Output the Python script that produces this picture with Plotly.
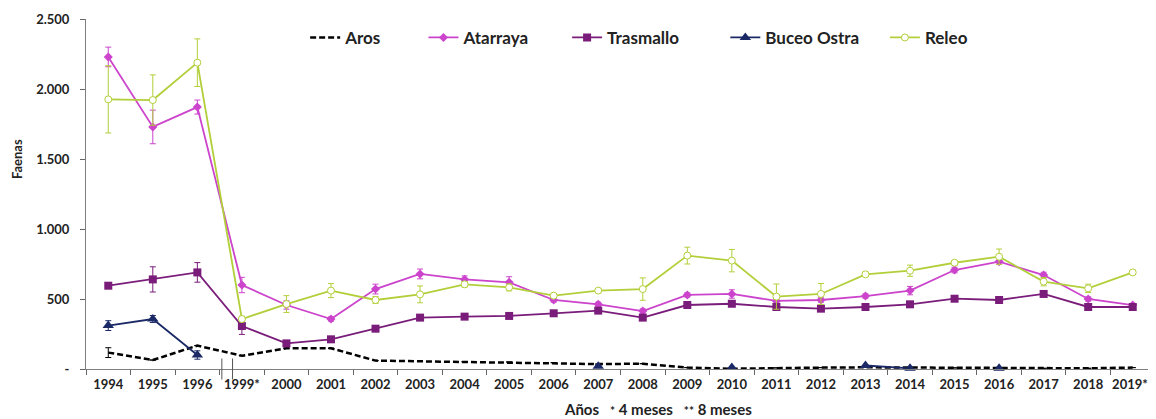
import plotly.graph_objects as go

NaN = float("nan")

years = ["1994", "1995", "1996", "1999*", "2000", "2001", "2002", "2003", "2004", "2005",
         "2006", "2007", "2008", "2009", "2010", "2011", "2012", "2013", "2014", "2015",
         "2016", "2017", "2018", "2019**"]

aros = [117, 64, 167, 95, 148, 148, 60, 55, 52, 50, 45, 35, 38, 10, 2, 8, 10, 12, 10, 8, 5, 5, 5, 10]
aros_err = [35] + [NaN] * 23

atarraya = [2229, 1729, 1871, 600, 457, 357, 571, 679, 640, 619, 493, 462, 414, 529, 536,
            486, 493, 521, 560, 707, 767, 671, 500, 457]
atarraya_err = [70, 120, 50, 55, 30, 15, 35, 35, 25, 40, 15, 15, 15, 15, 30,
                15, 15, 15, 30, 20, 20, 20, 15, 10]

trasmallo = [595, 640, 690, 307, 183, 212, 288, 367, 374, 379, 398, 417, 367, 457, 466,
             443, 431, 443, 462, 502, 493, 536, 443, 443]
trasmallo_err = [15, 90, 70, 60, 10, 10, 10, 10, 10, 10, 10, 10, 10, 10, 10,
                 10, 10, 10, 10, 10, 10, 10, 10, 10]

buceo = [310, 357, 100, None, None, None, None, None, None, None, None, 20, None, None, 10,
         None, None, 25, 5, None, 5, None, None, None]
buceo_err = [35, 25, 30] + [NaN] * 21

releo = [1926, 1921, 2188, 357, 464, 560, 493, 533, 605, 583, 524, 560, 571, 810, 774,
         517, 536, 676, 702, 759, 802, 624, 576, 690]
releo_err = [240, 180, 170, 20, 60, 50, 25, 60, 20, 25, 15, 15, 80, 60, 80,
             90, 75, 15, 40, 15, 55, 30, 30, 15]

c_aros = "#000000"
c_ata = "#CC44CC"
c_tra = "#7A1C7A"
c_buc = "#1B2A66"
c_rel = "#B2CF3A"

def pad(n):
    return "\u00a0" * n

fig = go.Figure()

def eb(arr, color):
    return dict(type="data", array=arr, visible=True, color=color, thickness=1, width=3)

fig.add_trace(go.Scatter(x=years, y=aros, name="Aros" + pad(9), mode="lines",
                         line=dict(color=c_aros, width=2.5, dash="6px,3px"),
                         error_y=eb(aros_err, c_aros), cliponaxis=False))
fig.add_trace(go.Scatter(x=years, y=atarraya, name="Atarraya" + pad(8), mode="lines+markers",
                         line=dict(color=c_ata, width=1.8),
                         marker=dict(symbol="diamond", size=7, color=c_ata),
                         error_y=eb(atarraya_err, c_ata), cliponaxis=False))
fig.add_trace(go.Scatter(x=years, y=trasmallo, name="Trasmallo" + pad(10), mode="lines+markers",
                         line=dict(color=c_tra, width=1.8),
                         marker=dict(symbol="square", size=8, color=c_tra),
                         error_y=eb(trasmallo_err, c_tra), cliponaxis=False))
fig.add_trace(go.Scatter(x=years, y=buceo, name="Buceo Ostra" + pad(5), mode="lines+markers",
                         line=dict(color=c_buc, width=1.8), connectgaps=False,
                         marker=dict(symbol="triangle-up", size=10, color=c_buc),
                         error_y=eb(buceo_err, c_buc), cliponaxis=False))
fig.add_trace(go.Scatter(x=years, y=releo, name="Releo", mode="lines+markers",
                         line=dict(color=c_rel, width=1.8),
                         marker=dict(symbol="circle", size=7, color="white",
                                     line=dict(color=c_rel, width=1)),
                         error_y=eb(releo_err, c_rel), cliponaxis=False))

font_family = "Lato, Open Sans, sans-serif"
txt = "#222222"

# page body adds an 8px offset; figure size and margins compensate for it
fig.update_layout(
    width=1148, height=411, autosize=False,
    margin=dict(l=78, r=1, t=11, b=50),
    paper_bgcolor="white", plot_bgcolor="white",
    font=dict(family=font_family, size=12, color=txt, weight="bold"),
    showlegend=True,
    legend=dict(orientation="h", x=0.205, y=0.946, xanchor="left", yanchor="middle",
                font=dict(size=17, color=txt, weight="bold"),
                bgcolor="rgba(0,0,0,0)", itemwidth=30, tracegroupgap=0),
    xaxis=dict(type="category", categoryorder="array", categoryarray=years,
               range=[-0.5, len(years) - 0.5], tickson="boundaries", tickangle=0,
               ticks="outside", ticklen=5, tickcolor="#666666",
               showline=True, linecolor="#7f7f7f", linewidth=1,
               showgrid=False, zeroline=False, ticklabelstandoff=3,
               tickfont=dict(size=13, weight="bold", color=txt)),
    yaxis=dict(range=[0, 2500], tickvals=[0, 500, 1000, 1500, 2000, 2500],
               ticktext=["-", "500", "1.000", "1.500", "2.000", "2.500"],
               ticks="outside", ticklen=5, tickcolor="#666666",
               showline=True, linecolor="#7f7f7f", linewidth=1,
               showgrid=False, zeroline=False, ticklabelstandoff=8,
               tickfont=dict(size=13, weight="bold", color=txt)),
)

fig.add_annotation(text="Faenas", xref="paper", yref="paper", x=-0.0645, y=0.6,
                   textangle=-90, showarrow=False, xanchor="center", yanchor="middle",
                   font=dict(size=13, weight="bold", color=txt))
fig.add_annotation(text="Años&nbsp;&nbsp;&nbsp;<span style='font-size:12px'>*</span>&nbsp;4 meses&nbsp;&nbsp;&nbsp;<span style='font-size:12px'>**</span>&nbsp;8 meses",
                   xref="paper", yref="paper", x=0.535, y=-0.114, showarrow=False,
                   xanchor="center", yanchor="middle",
                   font=dict(size=15, weight="bold", color=txt))

for xb in [2.55, 2.79]:
    fig.add_shape(type="line", xref="x", yref="paper", x0=xb, x1=xb, y0=-0.03, y1=0.03,
                  line=dict(color="#555555", width=1))

fig.write_html("out.html")
